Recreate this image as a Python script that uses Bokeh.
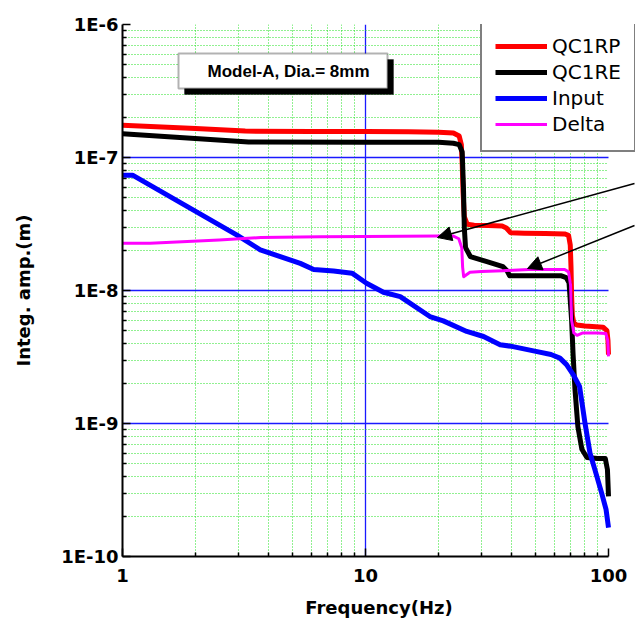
from bokeh.plotting import figure
from bokeh.models import (Range1d, FixedTicker, CustomJSTickFormatter, Legend, LegendItem,
                          BoxAnnotation, Label, Arrow, NormalHead, Grid)
from bokeh.embed import file_html
from bokeh.resources import INLINE

# ---------------- data ----------------
freq_qc1rp = [1, 2, 3.2, 6, 10, 15, 20, 23, 24.3, 24.8, 25.0, 25.2, 25.5, 26.2, 28, 32, 36.5,
              38.0, 39.5, 45, 55, 66, 68.5, 69.6, 70.1, 70.5, 71.0, 72.0, 74, 80, 95, 98.5, 99.5, 100]
amp_qc1rp = [1.75e-7, 1.65e-7, 1.58e-7, 1.57e-7, 1.57e-7, 1.56e-7, 1.55e-7, 1.53e-7, 1.45e-7, 1.25e-7,
             9e-8, 5.5e-8, 3.6e-8, 3.15e-8, 3.1e-8, 3.08e-8, 3.05e-8, 2.95e-8, 2.72e-8, 2.7e-8,
             2.68e-8, 2.66e-8, 2.6e-8, 2.2e-8, 1.5e-8, 9e-9, 6.5e-9, 5.7e-9, 5.5e-9, 5.4e-9,
             5.3e-9, 5.0e-9, 4.2e-9, 3.3e-9]

freq_qc1re = [1, 3.3, 10, 20, 23, 24.3, 25.0, 25.3, 25.5, 25.8, 27, 31.6, 36.8, 38.3, 39.2, 45, 55,
              64, 67, 68.8, 70.5, 71.5, 72.8, 74.8, 77.7, 81.5, 90, 97, 99, 100]
amp_qc1re = [1.51e-7, 1.31e-7, 1.30e-7, 1.30e-7, 1.28e-7, 1.25e-7, 1.1e-7, 6e-8, 3e-8, 2.1e-8,
             1.8e-8, 1.65e-8, 1.51e-8, 1.4e-8, 1.29e-8, 1.29e-8, 1.29e-8, 1.29e-8, 1.25e-8,
             1.14e-8, 6.0e-9, 3.3e-9, 1.8e-9, 9.5e-10, 6.4e-10, 5.55e-10, 5.45e-10, 5.45e-10,
             4.5e-10, 2.83e-10]

freq_input = [1, 1.1, 2.96, 3.69, 5.39, 6.12, 7.39, 8.8, 10.1, 11.85, 13.9, 18.4, 20.9, 26.1,
              30.6, 35.8, 40, 49.7, 58, 63.1, 67.2, 71.9, 76, 77.8, 80, 83.9, 87.9, 93.6, 97.7, 100]
amp_input = [7.36e-8, 7.36e-8, 2.61e-8, 2.02e-8, 1.60e-8, 1.44e-8, 1.40e-8, 1.35e-8, 1.135e-8,
             9.7e-9, 9.0e-9, 6.37e-9, 5.91e-9, 4.92e-9, 4.51e-9, 3.91e-9, 3.8e-9, 3.5e-9, 3.3e-9,
             3.1e-9, 2.77e-9, 2.3e-9, 1.9e-9, 1.43e-9, 1.01e-9, 6.0e-10, 4.5e-10, 3.02e-10,
             2.26e-10, 1.65e-10]

freq_delta = [1, 1.3, 2.5, 3.7, 6.5, 10, 20, 22.9, 24.2, 24.9, 25.1, 25.35, 26.9, 30, 36.8, 47, 60,
              66, 68.5, 69.8, 70.5, 72, 74.2, 78.4, 90, 97.5, 99.3, 100]
amp_delta = [2.265e-8, 2.27e-8, 2.40e-8, 2.50e-8, 2.54e-8, 2.55e-8, 2.57e-8, 2.57e-8, 2.45e-8,
             2.1e-8, 1.5e-8, 1.27e-8, 1.37e-8, 1.39e-8, 1.41e-8, 1.44e-8, 1.44e-8, 1.44e-8,
             1.38e-8, 1.1e-8, 6e-9, 4.8e-9, 4.6e-9, 4.8e-9, 4.8e-9, 4.75e-9, 4.2e-9, 3.2e-9]

series_names = ["QC1RP", "QC1RE", "Input", "Delta"]
x_ticks = [1, 10, 100]
x_minor = [2, 3, 4, 5, 6, 7, 8, 9, 20, 30, 40, 50, 60, 70, 80, 90]
y_ticks = [1e-10, 1e-9, 1e-8, 1e-7, 1e-6]
y_minor = [k * 10.0 ** e for e in (-10, -9, -8, -7) for k in range(2, 10)]
y_grid_major = [1e-9, 1e-8, 1e-7]
x_grid_major = [10]
note_text = "Model-A, Dia.= 8mm"

# ---------------- figure ----------------
W, H = 635, 627
L, T, B = 122, 24, 71
X100 = 608          # pixel where f = 100 sits; frame extends to the right edge for the legend/arrows
fw100 = X100 - L
fh = H - T - B
xmax = 10 ** (2.0 * (W - L) / fw100)

p = figure(width=W, height=H, x_axis_type="log", y_axis_type="log",
           x_range=Range1d(1, xmax), y_range=Range1d(1e-10, 1e-6),
           output_backend="svg", toolbar_location=None,
           min_border_left=L, min_border_right=0, min_border_top=T, min_border_bottom=B)
p.outline_line_color = None
p.background_fill_color = "white"

def fx(px):
    return 10 ** (2.0 * (px - L) / fw100)
def fy(py):
    return 10 ** (-6.0 - 4.0 * (py - T) / fh)

GRID_BLUE = "#1a1aff"
GRID_GREEN = "#22e022"

# grids
p.xgrid.ticker = FixedTicker(ticks=x_grid_major, minor_ticks=x_minor)
p.xgrid.bounds = (1, 100)
p.xgrid.grid_line_color = GRID_BLUE
p.xgrid.grid_line_width = 1.3
p.xgrid.minor_grid_line_color = GRID_GREEN
p.xgrid.minor_grid_line_dash = "1 2"
p.xgrid.minor_grid_line_width = 1

if "cross_bounds" in Grid.properties():
    p.ygrid.ticker = FixedTicker(ticks=y_grid_major, minor_ticks=y_minor)
    p.ygrid.cross_bounds = (1, 100)
    p.ygrid.grid_line_color = GRID_BLUE
    p.ygrid.grid_line_width = 1.3
    p.ygrid.minor_grid_line_color = GRID_GREEN
    p.ygrid.minor_grid_line_dash = "1 2"
    p.ygrid.minor_grid_line_width = 1
else:
    p.ygrid.visible = False
    p.segment(x0=[1] * len(y_minor), x1=[100] * len(y_minor), y0=y_minor, y1=y_minor,
              line_color=GRID_GREEN, line_dash="1 2", line_width=1, level="underlay")
    p.segment(x0=[1] * len(y_grid_major), x1=[100] * len(y_grid_major), y0=y_grid_major,
              y1=y_grid_major, line_color=GRID_BLUE, line_width=1.3, level="underlay")

# axes
p.xaxis.ticker = FixedTicker(ticks=x_ticks, minor_ticks=x_minor)
p.yaxis.ticker = FixedTicker(ticks=y_ticks, minor_ticks=y_minor)
p.xaxis.bounds = (1, 100)
p.xaxis.formatter = CustomJSTickFormatter(code="return String(Math.round(tick));")
p.yaxis.formatter = CustomJSTickFormatter(code="return '1E' + Math.round(Math.log10(tick));")
for ax in (p.xaxis[0], p.yaxis[0]):
    ax.axis_line_width = 2
    ax.axis_line_color = "black"
    ax.major_tick_in = 8
    ax.major_tick_out = 0
    ax.minor_tick_in = 4
    ax.minor_tick_out = 0
    ax.major_tick_line_width = 1.5
    ax.minor_tick_line_width = 1.5
    ax.major_label_text_font = "DejaVu Sans"
    ax.major_label_text_font_style = "bold"
    ax.major_label_text_font_size = "18px"
    ax.major_label_text_color = "black"
    ax.axis_label_text_font = "DejaVu Sans"
    ax.axis_label_text_font_style = "bold"
    ax.axis_label_text_font_size = "18px"
    ax.axis_label_text_color = "black"
p.yaxis.axis_label = "Integ. amp.(m)"
p.xaxis.axis_label = "Frequency(Hz)"
p.xaxis.major_label_standoff = 12
p.xaxis.axis_label_standoff = 12
p.yaxis.major_label_standoff = 4
p.yaxis.axis_label_standoff = 24

# series
r1 = p.line(freq_qc1rp, amp_qc1rp, line_color="#ff0000", line_width=5, line_join="round")
r2 = p.line(freq_qc1re, amp_qc1re, line_color="#000000", line_width=5, line_join="round")
r3 = p.line(freq_input, amp_input, line_color="#0000ff", line_width=5, line_join="round")
r4 = p.line(freq_delta, amp_delta, line_color="#ff00ff", line_width=3, line_join="round")

legend = Legend(items=[LegendItem(label=n, renderers=[r]) for n, r in zip(series_names, [r1, r2, r3, r4])],
                location=(480 - L, (H - B) - 152), margin=0,
                glyph_width=52, glyph_height=26, label_height=26, spacing=0, padding=13,
                label_standoff=5, label_text_font="DejaVu Sans", label_text_font_size="20px",
                label_text_color="black", border_line_color="black", border_line_width=2,
                background_fill_color="white", background_fill_alpha=1)
p.add_layout(legend)

# note box with shadow
p.add_layout(BoxAnnotation(left=fx(184), right=fx(393), top=fy(59), bottom=fy(94),
                           fill_color="black", fill_alpha=1, line_color="black", line_width=1))
p.add_layout(BoxAnnotation(left=fx(178), right=fx(387), top=fy(53), bottom=fy(88),
                           fill_color="white", fill_alpha=1, line_color="black", line_width=2))
p.add_layout(Label(x=fx(207), y=fy(71), text=note_text, text_font="Liberation Sans",
                   text_font_style="bold", text_font_size="17px", text_color="black",
                   text_align="left", text_baseline="middle"))

# arrows
for (x0, y0, x1, y1) in [(634, 183, 437, 237), (634, 225, 527, 268)]:
    p.add_layout(Arrow(end=NormalHead(size=14, fill_color="black", line_color="black"),
                       x_start=fx(x0), y_start=fy(y0), x_end=fx(x1), y_end=fy(y1),
                       line_color="black", line_width=1.5))

open("out.html", "w").write(file_html(p, INLINE))
